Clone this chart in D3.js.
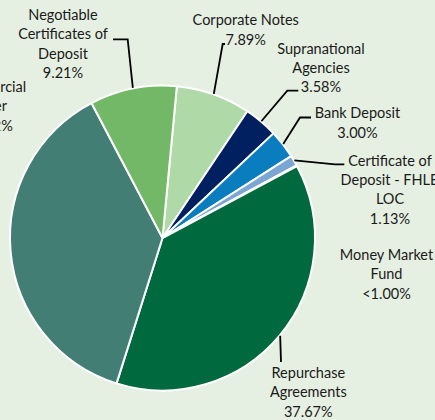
<!DOCTYPE html>
<html>
<head>
<meta charset="utf-8">
<script src="https://cdn.jsdelivr.net/npm/d3@7"></script>
<style>
html,body{margin:0;padding:0;background:#e6f0e2;}
svg{display:block;}
</style>
</head>
<body>
<svg id="chart" width="435" height="420"></svg>
<script>
// ---- data ----
const categories = ["Corporate Notes","Supranational Agencies","Bank Deposit","Certificate of Deposit - FHLB LOC","Money Market Fund","Repurchase Agreements","Commercial Paper","Negotiable Certificates of Deposit"];
const values = [7.89, 3.58, 3.00, 1.13, 0.10, 37.67, 37.42, 9.21];
const valueLabels = ["7.89%","3.58%","3.00%","1.13%","<1.00%","37.67%","37.42%","9.21%"];
const labelLines = [
  ["Corporate Notes"],
  ["Supranational","Agencies"],
  ["Bank Deposit"],
  ["Certificate of","Deposit - FHLB","LOC"],
  ["Money Market","Fund"],
  ["Repurchase","Agreements"],
  ["Commercial","Paper"],
  ["Negotiable","Certificates of","Deposit"]
];
const colors = ["#b0d9a8","#002060","#0a7dbf","#7ba6d3","#9cc3e6","#006a3e","#427e73","#72b866"];

// ---- layout ----
const W = 435, H = 420;
const cx = 162.5, cy = 238, R = 152.5;
const lineH = 19.3;
// label anchor: center x, first-line center y; leader elbow/end (null = no leader)
const labelPos = [
  {x:245.7, y:20.3, elbow:[222.7,44], end:[225,44]},
  {x:321, y:48.5, elbow:[287.3,90.7], end:[298.3,90.7]},
  {x:357.5, y:113.3, elbow:[300,117.5], end:[311,117.5]},
  {x:390, y:160.7, elbow:[335,164.3], end:[344.3,164.3]},
  {x:386.5, y:255, elbow:null, end:null},
  {x:308.3, y:373, elbow:[281,362], end:[281,362]},
  {x:null, rightEnd:26.2, y:87, elbow:null, end:null},
  {x:63, y:15, elbow:[127.7,39.3], end:[113,39.3]}
];

const svg = d3.select("#chart");
svg.append("rect").attr("width",W).attr("height",H).attr("fill","#e6f0e2");

const start = 5.4*Math.PI/180;
const pie = d3.pie().value(d=>d).sort(null).startAngle(start).endAngle(start+2*Math.PI);
const arcs = pie(values);
const arc = d3.arc().innerRadius(0).outerRadius(R);

const g = svg.append("g").attr("transform",`translate(${cx},${cy})`);
g.selectAll("path").data(arcs).enter().append("path")
  .attr("d",arc)
  .attr("fill",(d,i)=>colors[i])
  .attr("stroke","#ffffff")
  .attr("stroke-width",2)
  .attr("stroke-linejoin","round");

// leader lines
arcs.forEach((a,i)=>{
  const p = labelPos[i];
  if(!p.elbow) return;
  const mid = (a.startAngle+a.endAngle)/2;
  const r0 = R+0.5;
  const sx = cx + r0*Math.sin(mid), sy = cy - r0*Math.cos(mid);
  svg.append("polyline")
    .attr("points",[[sx,sy],p.elbow,p.end].map(q=>q.join(",")).join(" "))
    .attr("fill","none").attr("stroke","#000").attr("stroke-width",1.8);
});

// labels
const font = "Lato, 'Open Sans', sans-serif";
arcs.forEach((a,i)=>{
  const p = labelPos[i];
  const lines = labelLines[i].concat([valueLabels[i]]);
  const t = svg.append("text")
    .attr("font-family",font).attr("font-size",14.5)
    .attr("fill","#1a1a1a").attr("text-anchor","middle");
  lines.forEach((ln,k)=>{
    t.append("tspan").attr("x",0).attr("y",p.y + k*lineH).attr("dy","0.35em").text(ln);
  });
  let x = p.x;
  if(x===null){
    const first = t.select("tspan").node().getComputedTextLength();
    x = p.rightEnd - first/2;
  }
  t.attr("transform",`translate(${x},0)`);
});
</script>
</body>
</html>
